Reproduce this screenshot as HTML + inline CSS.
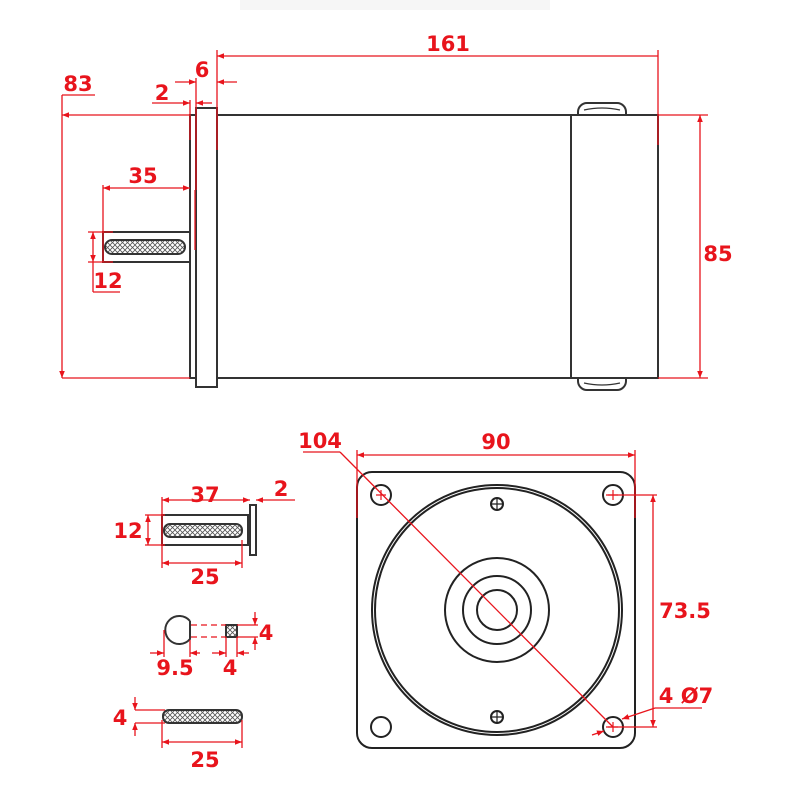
<!DOCTYPE html>
<html><head><meta charset="utf-8"><style>
html,body{margin:0;padding:0;background:#fff;}
svg{display:block}
text{font-family:"DejaVu Sans","Liberation Sans",sans-serif;fill:#e8141c;font-weight:bold;font-size:21px;text-anchor:middle}
</style></head><body>
<svg width="800" height="800" viewBox="0 0 800 800" xmlns="http://www.w3.org/2000/svg">
<defs>
<pattern id="kn" width="5" height="5" patternUnits="userSpaceOnUse">
<rect width="5" height="5" fill="#fff"/>
<path d="M0 0L5 5M5 0L0 5" stroke="#555" stroke-width="0.8"/>
</pattern>
<marker id="a" viewBox="0 0 10 10" refX="10" refY="5" markerWidth="9" markerHeight="7" orient="auto-start-reverse" markerUnits="userSpaceOnUse">
<path d="M0 1L10 5L0 9z" fill="#e8141c"/>
</marker>
</defs>
<rect x="240" y="0" width="310" height="10" fill="#f6f6f6"/>
<!-- side view -->
<g fill="#fff" stroke="#333" stroke-width="2">
<rect x="578" y="103" width="48" height="24" rx="9"/>
<rect x="578" y="366" width="48" height="24" rx="9"/>
<path d="M584 110 Q602 106 620 110" fill="none" stroke-width="1.2"/>
<path d="M584 383 Q602 387 620 383" fill="none" stroke-width="1.2"/>
<rect x="217" y="115" width="441" height="263"/>
<line x1="571" y1="115" x2="571" y2="378"/>
<rect x="196" y="108" width="21" height="279"/>
<rect x="190" y="115" width="6" height="263"/>
<rect x="103" y="232" width="87" height="30"/>
<rect x="105" y="240" width="80" height="14" rx="7" fill="url(#kn)"/>
</g>
<!-- front view -->
<g fill="none" stroke="#222" stroke-width="2">
<rect x="357" y="472" width="278" height="276" rx="15"/>
<circle cx="497" cy="610" r="125"/>
<circle cx="497" cy="610" r="122"/>
<circle cx="497" cy="610" r="52"/>
<circle cx="497" cy="610" r="34"/>
<circle cx="497" cy="610" r="20"/>
<circle cx="381" cy="495" r="10"/>
<circle cx="613" cy="495" r="10"/>
<circle cx="381" cy="727" r="10"/>
<circle cx="613" cy="727" r="10"/>
<circle cx="497" cy="504" r="6"/>
<circle cx="497" cy="717" r="6"/>
<path d="M491 504h12M497 498v12M491 717h12M497 711v12" stroke-width="1.2"/>
</g>
<!-- shaft details -->
<g fill="#fff" stroke="#333" stroke-width="2">
<rect x="250" y="505" width="6" height="50"/>
<rect x="162" y="515" width="86" height="30"/>
<rect x="164" y="524" width="78" height="13" rx="6" fill="url(#kn)"/>
<path d="M190 621 A14 14 0 1 0 190 639 L190 621"/>
<rect x="226" y="625" width="11" height="12" fill="url(#kn)"/>
<rect x="163" y="710" width="79" height="13" rx="6" fill="url(#kn)"/>
</g>
<path d="M191 625h35M191 637h35" stroke="#e8141c" stroke-width="1.2" stroke-dasharray="6,4"/>
<!-- dimension lines -->
<g stroke="#e8141c" stroke-width="1.3" fill="none">
<line x1="217" y1="56" x2="658" y2="56" marker-start="url(#a)"/>
<line x1="217" y1="50" x2="217" y2="150"/>
<line x1="658" y1="50" x2="658" y2="145"/>
<line x1="175" y1="82" x2="196" y2="82" marker-end="url(#a)"/>
<line x1="237" y1="82" x2="217" y2="82" marker-end="url(#a)"/>
<line x1="196" y1="78" x2="196" y2="190"/>
<line x1="152" y1="103" x2="190" y2="103" marker-end="url(#a)"/>
<line x1="212" y1="103" x2="196" y2="103" marker-end="url(#a)"/>
<line x1="190" y1="100" x2="190" y2="140"/>
<line x1="62" y1="95" x2="95" y2="95"/>
<line x1="62" y1="95" x2="62" y2="378" marker-end="url(#a)"/>
<line x1="62" y1="115" x2="190" y2="115" marker-start="url(#a)"/>
<line x1="62" y1="378" x2="190" y2="378"/>
<line x1="103" y1="188" x2="190" y2="188" marker-start="url(#a)" marker-end="url(#a)"/>
<line x1="103" y1="185" x2="103" y2="262"/>
<line x1="195" y1="190" x2="195" y2="250"/>
<line x1="88" y1="232" x2="113" y2="232"/>
<line x1="88" y1="262" x2="113" y2="262"/>
<line x1="93" y1="232" x2="93" y2="262" marker-start="url(#a)" marker-end="url(#a)"/>
<line x1="93" y1="262" x2="93" y2="292"/>
<line x1="93" y1="292" x2="120" y2="292"/>
<line x1="658" y1="115" x2="708" y2="115"/>
<line x1="658" y1="378" x2="708" y2="378"/>
<line x1="700" y1="115" x2="700" y2="378" marker-start="url(#a)" marker-end="url(#a)"/>
<line x1="162" y1="500" x2="250" y2="500" marker-start="url(#a)" marker-end="url(#a)"/>
<line x1="162" y1="497" x2="162" y2="568"/>
<line x1="295" y1="500" x2="256" y2="500" marker-end="url(#a)"/>
<line x1="145" y1="515" x2="165" y2="515"/>
<line x1="145" y1="545" x2="165" y2="545"/>
<line x1="148" y1="515" x2="148" y2="545" marker-start="url(#a)" marker-end="url(#a)"/>
<line x1="162" y1="563" x2="242" y2="563" marker-start="url(#a)" marker-end="url(#a)"/>
<line x1="242" y1="540" x2="242" y2="568"/>
<line x1="237" y1="625" x2="258" y2="625"/>
<line x1="237" y1="637" x2="258" y2="637"/>
<line x1="255" y1="612" x2="255" y2="625" marker-end="url(#a)"/>
<line x1="255" y1="650" x2="255" y2="637" marker-end="url(#a)"/>
<line x1="164" y1="630" x2="164" y2="657"/>
<line x1="190" y1="640" x2="190" y2="657"/>
<line x1="150" y1="653" x2="164" y2="653" marker-end="url(#a)"/>
<line x1="200" y1="653" x2="190" y2="653" marker-end="url(#a)"/>
<line x1="226" y1="637" x2="226" y2="657"/>
<line x1="237" y1="637" x2="237" y2="657"/>
<line x1="212" y1="653" x2="226" y2="653" marker-end="url(#a)"/>
<line x1="249" y1="653" x2="237" y2="653" marker-end="url(#a)"/>
<line x1="135" y1="710" x2="165" y2="710"/>
<line x1="135" y1="723" x2="165" y2="723"/>
<line x1="135" y1="697" x2="135" y2="710" marker-end="url(#a)"/>
<line x1="135" y1="736" x2="135" y2="723" marker-end="url(#a)"/>
<line x1="162" y1="720" x2="162" y2="748"/>
<line x1="242" y1="720" x2="242" y2="748"/>
<line x1="162" y1="742" x2="242" y2="742" marker-start="url(#a)" marker-end="url(#a)"/>
<line x1="357" y1="455" x2="635" y2="455" marker-start="url(#a)" marker-end="url(#a)"/>
<line x1="357" y1="450" x2="357" y2="518"/>
<line x1="635" y1="450" x2="635" y2="518"/>
<line x1="303" y1="452" x2="340" y2="452"/>
<line x1="340" y1="452" x2="613" y2="727"/>
<line x1="606" y1="495" x2="657" y2="495"/>
<line x1="606" y1="727" x2="657" y2="727"/>
<line x1="653" y1="495" x2="653" y2="727" marker-start="url(#a)" marker-end="url(#a)"/>
<line x1="655" y1="708" x2="702" y2="708"/>
<line x1="655" y1="708" x2="622" y2="719" marker-end="url(#a)"/>
<line x1="592" y1="735" x2="604" y2="731" marker-end="url(#a)"/>
<path d="M376 495h10M381 490v10M608 495h10M613 490v10M608 727h10M613 722v10" stroke-width="1.2"/>
</g>
<text x="448" y="51">161</text>
<text x="202" y="77">6</text>
<text x="162" y="100">2</text>
<text x="78" y="91">83</text>
<text x="143" y="183">35</text>
<text x="108" y="288">12</text>
<text x="718" y="261">85</text>
<text x="205" y="502">37</text>
<text x="281" y="496">2</text>
<text x="128" y="538">12</text>
<text x="205" y="584">25</text>
<text x="266" y="640">4</text>
<text x="175" y="675">9.5</text>
<text x="230" y="675">4</text>
<text x="120" y="725">4</text>
<text x="205" y="767">25</text>
<text x="320" y="448">104</text>
<text x="496" y="449">90</text>
<text x="685" y="618">73.5</text>
<text x="686" y="703">4 Ø7</text>
</svg>
</body></html>
